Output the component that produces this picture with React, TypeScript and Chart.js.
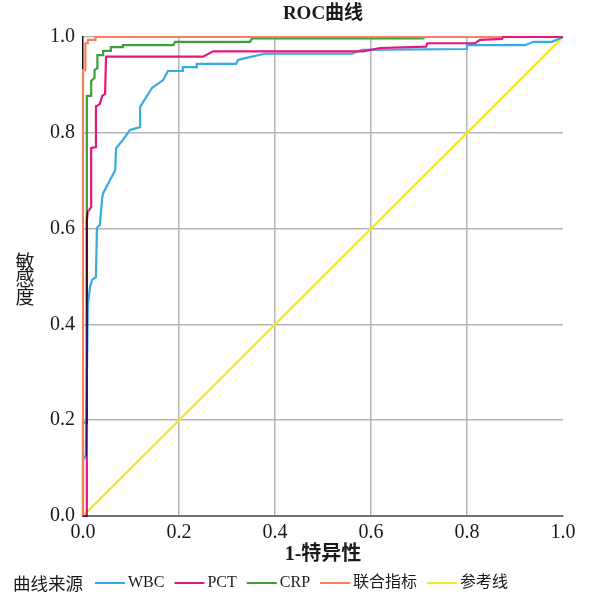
import { useEffect, useRef } from 'react';
import { Chart, registerables } from 'chart.js';

Chart.register(...registerables);

const chartTitle = 'ROC曲线';
const xAxisTitle = '1-特异性';
const yAxisTitle = ['敏', '感', '度'];
const legendTitle = '曲线来源';

const seriesNames = ['WBC', 'PCT', 'CRP', '联合指标', '参考线'];
const seriesColors = ['#38AAE3', '#E8157C', '#3E9E3E', '#F5825C', '#F6E620'];

const wbcFpr = [0, 0, 0.006, 0.010, 0.015, 0.019, 0.027, 0.029, 0.035, 0.040, 0.042, 0.067, 0.069, 0.083, 0.098, 0.119, 0.119, 0.144, 0.167, 0.177, 0.208, 0.208, 0.237, 0.237, 0.319, 0.323, 0.338, 0.379, 0.560, 0.581, 0.800, 0.800, 0.921, 0.938, 0.977, 1];
const wbcTpr = [0, 0.117, 0.127, 0.440, 0.480, 0.493, 0.499, 0.601, 0.608, 0.664, 0.674, 0.722, 0.768, 0.785, 0.806, 0.812, 0.854, 0.894, 0.910, 0.929, 0.929, 0.937, 0.937, 0.944, 0.944, 0.952, 0.956, 0.965, 0.965, 0.973, 0.975, 0.983, 0.983, 0.990, 0.990, 1];

const pctFpr = [0, 0.008, 0.008, 0.010, 0.017, 0.017, 0.025, 0.027, 0.035, 0.040, 0.046, 0.048, 0.250, 0.271, 0.583, 0.619, 0.715, 0.717, 0.817, 0.827, 0.873, 0.875, 1];
const pctTpr = [0, 0, 0.617, 0.635, 0.645, 0.768, 0.770, 0.855, 0.860, 0.877, 0.881, 0.959, 0.959, 0.970, 0.970, 0.977, 0.980, 0.987, 0.987, 0.994, 0.996, 1, 1];

const crpFpr = [0, 0, 0.008, 0.008, 0.017, 0.017, 0.024, 0.024, 0.030, 0.030, 0.042, 0.042, 0.058, 0.058, 0.083, 0.083, 0.188, 0.192, 0.348, 0.352, 0.708, 0.7125, 1];
const crpTpr = [0, 0.195, 0.195, 0.877, 0.877, 0.908, 0.915, 0.931, 0.935, 0.962, 0.962, 0.971, 0.971, 0.979, 0.979, 0.983, 0.983, 0.990, 0.990, 0.997, 0.997, 1, 1];

const combFpr = [0, 0, 0.005, 0.005, 0.010, 0.010, 0.026, 0.026, 1];
const combTpr = [0, 0.931, 0.931, 0.987, 0.987, 0.994, 0.994, 1, 1];

const refFpr = [0, 1];
const refTpr = [0, 1];

const tickValues = [0, 0.2, 0.4, 0.6, 0.8, 1.0];
const tickLabels = ['0.0', '0.2', '0.4', '0.6', '0.8', '1.0'];

const seriesX = [wbcFpr, pctFpr, crpFpr, combFpr, refFpr];
const seriesY = [wbcTpr, pctTpr, crpTpr, combTpr, refTpr];
// higher = drawn earlier (underneath)
const drawOrder = [3, 1, 4, 2, 5];

const FONT = '"Liberation Serif", "Noto Sans CJK SC", serif';
const CJK = '"Noto Sans CJK SC", sans-serif';
const TEXT = '#1a1a1a';

// PCT overlaps the other curves near x = 0: show the overlap darkened (multiply)
// only in that narrow band; elsewhere it is drawn normally.
const BLEND_LIMIT = 0.012;
const blendPlugin = {
  id: 'blendPct',
  beforeDatasetDraw(chart: any, args: any) {
    if (args.index !== 1) return;
    const ctx = chart.ctx;
    const xs = chart.scales.x;
    ctx.save();
    ctx.beginPath();
    ctx.rect(0, 0, xs.getPixelForValue(BLEND_LIMIT), chart.height);
    ctx.clip();
    ctx.globalCompositeOperation = 'multiply';
  },
  afterDatasetDraw(chart: any, args: any) {
    if (args.index !== 1) return;
    const ctx = chart.ctx;
    const xs = chart.scales.x;
    ctx.restore();
    ctx.save();
    const x0 = xs.getPixelForValue(BLEND_LIMIT);
    ctx.beginPath();
    ctx.rect(x0, 0, chart.width - x0, chart.height);
    ctx.clip();
    args.meta.controller.draw();
    ctx.restore();
  },
};

const extrasPlugin = {
  id: 'extras',
  afterDraw(chart: any) {
    const { ctx, chartArea } = chart;
    ctx.save();
    ctx.fillStyle = TEXT;
    ctx.font = `19px ${CJK}`;
    ctx.textAlign = 'center';
    ctx.textBaseline = 'middle';
    const cy = (chartArea.top + chartArea.bottom) / 2 + 2.5;
    const step = 17.5;
    yAxisTitle.forEach((ch, i) => {
      ctx.fillText(ch, 25, cy + (i - (yAxisTitle.length - 1) / 2) * step);
    });
    const ly = 583;
    ctx.textAlign = 'left';
    ctx.font = `17.5px ${CJK}`;
    let x = 13;
    ctx.fillText(legendTitle, x, ly);
    x += ctx.measureText(legendTitle).width + 12;
    chart.data.datasets.forEach((ds: any) => {
      ctx.strokeStyle = ds.borderColor;
      ctx.lineWidth = 2;
      ctx.beginPath();
      ctx.moveTo(x, ly);
      ctx.lineTo(x + 30, ly);
      ctx.stroke();
      x += 33;
      ctx.font = `16px ${FONT}`;
      ctx.fillText(ds.label, x, ly);
      x += ctx.measureText(ds.label).width + 10;
    });
    ctx.restore();
  },
};

export default function App() {
  const ref = useRef<HTMLCanvasElement | null>(null);
  useEffect(() => {
    if (!ref.current) return;
    const datasets = seriesNames.map((name, i) => ({
      label: name,
      data: seriesX[i].map((xv, j) => ({ x: xv, y: seriesY[i][j] })),
      borderColor: seriesColors[i],
      backgroundColor: seriesColors[i],
      borderWidth: 2.2,
      pointRadius: 0,
      pointHoverRadius: 0,
      tension: 0,
      fill: false,
      clip: false as any,
      order: drawOrder[i],
    }));
    const tickFont = { family: FONT, size: 20 };
    const chart = new Chart(ref.current, {
      type: 'line',
      data: { datasets },
      options: {
        responsive: false,
        animation: false,
        events: [],
        layout: { padding: { left: 0, right: 29, top: 0, bottom: 31 } },
        plugins: {
          legend: { display: false },
          tooltip: { enabled: false },
          title: {
            display: true,
            fullSize: false,
            text: chartTitle,
            color: TEXT,
            font: { family: FONT, size: 19, weight: 'bold' },
            padding: { top: 2.5, bottom: 11.7 },
          },
        },
        scales: {
          x: {
            type: 'linear',
            min: 0,
            max: 1,
            afterBuildTicks: (s: any) => {
              s.ticks = tickValues.map((v) => ({ value: v }));
            },
            afterFit: (s: any) => {
              s.height = 52;
            },
            ticks: {
              autoSkip: false,
              maxRotation: 0,
              padding: 5,
              color: TEXT,
              font: tickFont,
              callback: (_v: any, i: number) => tickLabels[i],
            },
            grid: {
              drawTicks: false,
              lineWidth: 1.5,
              color: (c: any) => (c.tick && (c.tick.value === 1 || c.tick.value === 0) ? 'rgba(0,0,0,0)' : '#b5b5b5'),
            },
            border: { display: true, color: '#727272', width: 2 },
            title: {
              display: true,
              text: xAxisTitle,
              color: TEXT,
              font: { family: FONT, size: 20, weight: 'bold' },
              padding: { top: 4, bottom: 1 },
            },
          },
          y: {
            type: 'linear',
            min: 0,
            max: 1,
            afterBuildTicks: (s: any) => {
              s.ticks = tickValues.map((v) => ({ value: v }));
            },
            afterFit: (s: any) => {
              s.width = 83;
            },
            ticks: {
              autoSkip: false,
              padding: 8,
              color: TEXT,
              font: tickFont,
              callback: (_v: any, i: number) => tickLabels[i],
            },
            grid: {
              drawTicks: false,
              lineWidth: 1.5,
              color: (c: any) => (c.tick && c.tick.value === 0 ? 'rgba(0,0,0,0)' : '#b5b5b5'),
            },
            border: { display: true, color: '#111111', width: 1.5 },
          },
        },
      },
      plugins: [blendPlugin, extrasPlugin],
    } as any);
    return () => chart.destroy();
  }, []);
  return (
    <div style={{ position: 'fixed', left: 0, top: 0, width: 592, height: 599, background: '#fff' }}>
      <canvas ref={ref} width={592} height={599} style={{ display: 'block', width: 592, height: 599 }} />
    </div>
  );
}
